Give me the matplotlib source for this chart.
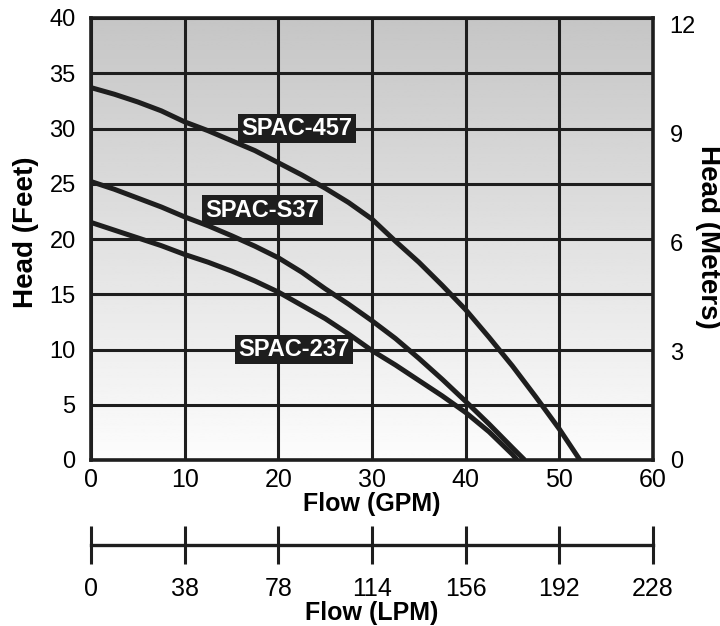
import numpy as np
import matplotlib
matplotlib.use("Agg")
import matplotlib.pyplot as plt

plt.rcParams['font.family'] = ['Liberation Sans', 'DejaVu Sans']
NARROW = ['Liberation Sans Narrow', 'Liberation Sans', 'DejaVu Sans']

# pump curves (flow in GPM, head in feet)
flow_457 = [0, 2.5, 5, 7.5, 10, 12.5, 15, 17.5, 20, 22.5, 25, 27.5, 30, 32.5,
            35, 37.5, 40, 42.5, 45, 47.5, 50, 52.2]
head_457 = [33.7, 33.1, 32.4, 31.6, 30.6, 29.8, 28.9, 28.0, 26.9, 25.8, 24.6,
            23.3, 21.8, 19.8, 17.9, 15.8, 13.6, 11.1, 8.5, 5.7, 2.8, 0]

flow_s37 = [0, 2.5, 5, 7.5, 10, 12.5, 15, 17.5, 20, 22.5, 25, 27.5, 30, 32.5,
            35, 37.5, 40, 42.5, 45, 46.3]
head_s37 = [25.2, 24.5, 23.7, 22.9, 22.0, 21.2, 20.3, 19.35, 18.3, 17.0, 15.5,
            14.1, 12.6, 11.0, 9.2, 7.3, 5.3, 3.25, 1.1, 0]

flow_237 = [0, 2.5, 5, 7.5, 10, 12.5, 15, 17.5, 20, 22.5, 25, 27.5, 30, 32.5,
            35, 37.5, 40, 42.5, 45, 45.5]
head_237 = [21.5, 20.8, 20.1, 19.4, 18.6, 17.9, 17.1, 16.2, 15.2, 14.0, 12.8,
            11.4, 9.9, 8.6, 7.2, 5.8, 4.3, 2.55, 0.5, 0]

labels = ['SPAC-457', 'SPAC-S37', 'SPAC-237']
label_pos = [(22.0, 30.0), (18.3, 22.6), (21.7, 10.0)]

gpm_ticks = [0, 10, 20, 30, 40, 50, 60]
lpm_labels = ['0', '38', '78', '114', '156', '192', '228']
feet_ticks = [0, 5, 10, 15, 20, 25, 30, 35, 40]
meter_ticks = [0, 3, 6, 9, 12]

ink = '#1e1e1e'

fig = plt.figure(figsize=(7.2, 6.26), dpi=100)
ax = fig.add_axes([91 / 720, 1 - 460 / 626, 562 / 720, 442 / 626])

# grey (top) to white (bottom) gradient behind the grid
grad = np.linspace(0, 1, 256).reshape(-1, 1)
ax.imshow(grad, extent=[0, 60, 0, 40], aspect='auto', cmap='gray_r',
          vmin=-0.05, vmax=4.6, origin='lower', zorder=0)

ax.set_xlim(0, 60)
ax.set_ylim(0, 40)
ax.set_xticks(gpm_ticks)
ax.set_yticks(feet_ticks)
ax.grid(True, color=ink, linewidth=2.2, zorder=1)
ax.set_axisbelow(False)
for s in ax.spines.values():
    s.set_linewidth(2.6)
    s.set_color(ink)
ax.tick_params(length=0)
ax.tick_params(axis='y', labelsize=17, pad=11)
ax.tick_params(axis='x', labelsize=18, pad=6)
for t in ax.get_xticklabels():
    t.set_family(NARROW)
ax.set_xlabel('Flow (GPM)', fontsize=18, fontweight='bold', labelpad=0)
ax.set_ylabel('Head (Feet)', fontsize=20, fontweight='bold', va='center', ha='center')
ax.yaxis.set_label_coords(-0.1157, 0.516)

for fx, hy in [(flow_457, head_457), (flow_s37, head_s37), (flow_237, head_237)]:
    ax.plot(fx, hy, color=ink, linewidth=3.6, solid_capstyle='butt',
            solid_joinstyle='round', zorder=3)

for name, (lx, ly) in zip(labels, label_pos):
    ax.text(lx, ly, name, ha='center', va='center', color='white',
            fontsize=17, fontweight='bold', zorder=5,
            bbox=dict(boxstyle='square,pad=0.14', facecolor=ink, edgecolor='none'))

# right axis in meters
axr = ax.twinx()
axr.set_ylim(0, 40 * 0.3048)
axr.set_yticks(meter_ticks)
axr.tick_params(length=0, labelsize=17, pad=12)
axr.set_ylabel('Head (Meters)', fontsize=20, fontweight='bold', rotation=-90,
               va='center', ha='center')
axr.yaxis.set_label_coords(1.0979, 0.505)
for s in axr.spines.values():
    s.set_visible(False)

# LPM scale underneath
axl = fig.add_axes([91 / 720, 1 - 545 / 626, 562 / 720, 0.0001])
axl.set_xlim(0, 60)
axl.set_yticks([])
axl.set_xticks(gpm_ticks)
axl.set_xticklabels(lpm_labels, family=NARROW)
for k in ['left', 'right', 'top']:
    axl.spines[k].set_visible(False)
axl.spines['bottom'].set_linewidth(2.4)
axl.spines['bottom'].set_color(ink)
axl.tick_params(axis='x', direction='inout', length=28, width=2.2,
                color=ink, labelsize=18, pad=9)
axl.set_xlabel('Flow (LPM)', fontsize=18, fontweight='bold', labelpad=0)

fig.savefig('out.png', dpi=100)
